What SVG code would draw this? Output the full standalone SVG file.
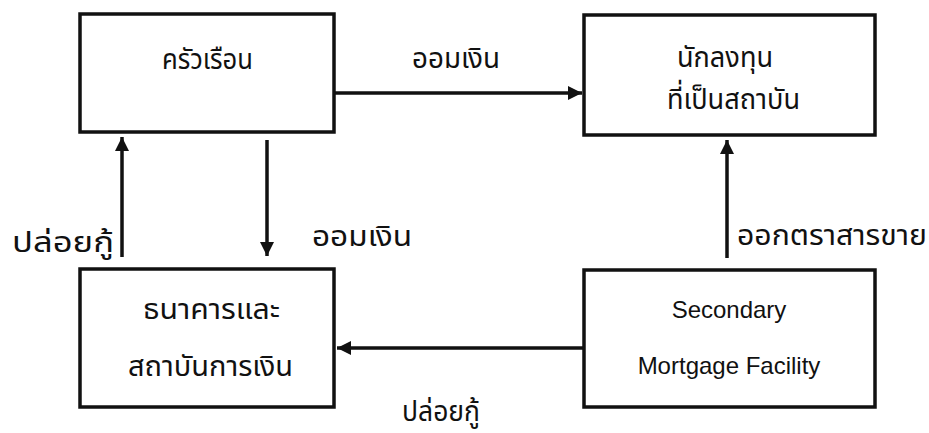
<svg xmlns="http://www.w3.org/2000/svg" width="929" height="433" viewBox="0 0 929 433">
<style>
.box{fill:#fff;stroke:#111;stroke-width:3.5}
.th{font-family:"Noto Sans Thai","Noto Sans","DejaVu Sans",sans-serif;font-size:29px;fill:#111}
.en{font-family:"Liberation Sans",Arial,sans-serif;font-size:24px;fill:#111}
.c{text-anchor:middle}
.ln{stroke:#111;stroke-width:3.5;fill:none}
</style>
<defs>
<marker id="ah" viewBox="0 0 10 10" refX="10" refY="5" markerWidth="4" markerHeight="4" orient="auto" markerUnits="strokeWidth">
<path d="M0,0 L10,5 L0,10 Z" fill="#111"/>
</marker>
</defs>
<rect x="0" y="0" width="929" height="433" fill="#fff"/>
<g id="connectors">
<line class="ln" x1="334" y1="93" x2="582" y2="93" marker-end="url(#ah)"/>
<line class="ln" x1="122" y1="257" x2="122" y2="137" marker-end="url(#ah)"/>
<line class="ln" x1="267" y1="140" x2="267" y2="256" marker-end="url(#ah)"/>
<line class="ln" x1="727" y1="258" x2="727" y2="140" marker-end="url(#ah)"/>
<line class="ln" x1="583" y1="348" x2="337" y2="348" marker-end="url(#ah)"/>
</g>
<g id="n1"><rect class="box" x="80" y="14" width="254" height="118"/><text class="th" x="162" y="69" textLength="91" lengthAdjust="spacingAndGlyphs">ครัวเรือน</text></g>
<g id="n2"><rect class="box" x="584" y="15" width="291" height="120"/><text class="th" x="677" y="67" font-size="27" textLength="96" lengthAdjust="spacingAndGlyphs">นักลงทุน</text><text class="th" x="667" y="109" font-size="27" textLength="133" lengthAdjust="spacingAndGlyphs">ที่เป็นสถาบัน</text></g>
<g id="n3"><rect class="box" x="80" y="269" width="254" height="138"/><text class="th" x="143" y="319" textLength="137" lengthAdjust="spacingAndGlyphs">ธนาคารและ</text><text class="th" x="128" y="376" textLength="165" lengthAdjust="spacingAndGlyphs">สถาบันการเงิน</text></g>
<g id="n4"><rect class="box" x="584" y="270" width="291" height="137"/><text class="en c" x="729" y="318">Secondary</text><text class="en c" x="729" y="374">Mortgage Facility</text></g>
<g id="labels">
<text class="th" x="412" y="68" textLength="88" lengthAdjust="spacingAndGlyphs">ออมเงิน</text>
<text class="th" x="12" y="252" textLength="102" lengthAdjust="spacingAndGlyphs">ปล่อยกู้</text>
<text class="th" x="312" y="246" textLength="100" lengthAdjust="spacingAndGlyphs">ออมเงิน</text>
<text class="th" x="737" y="245" textLength="190" lengthAdjust="spacingAndGlyphs">ออกตราสารขาย</text>
<text class="th" x="402" y="421" textLength="78" lengthAdjust="spacingAndGlyphs">ปล่อยกู้</text>
</g>
</svg>
